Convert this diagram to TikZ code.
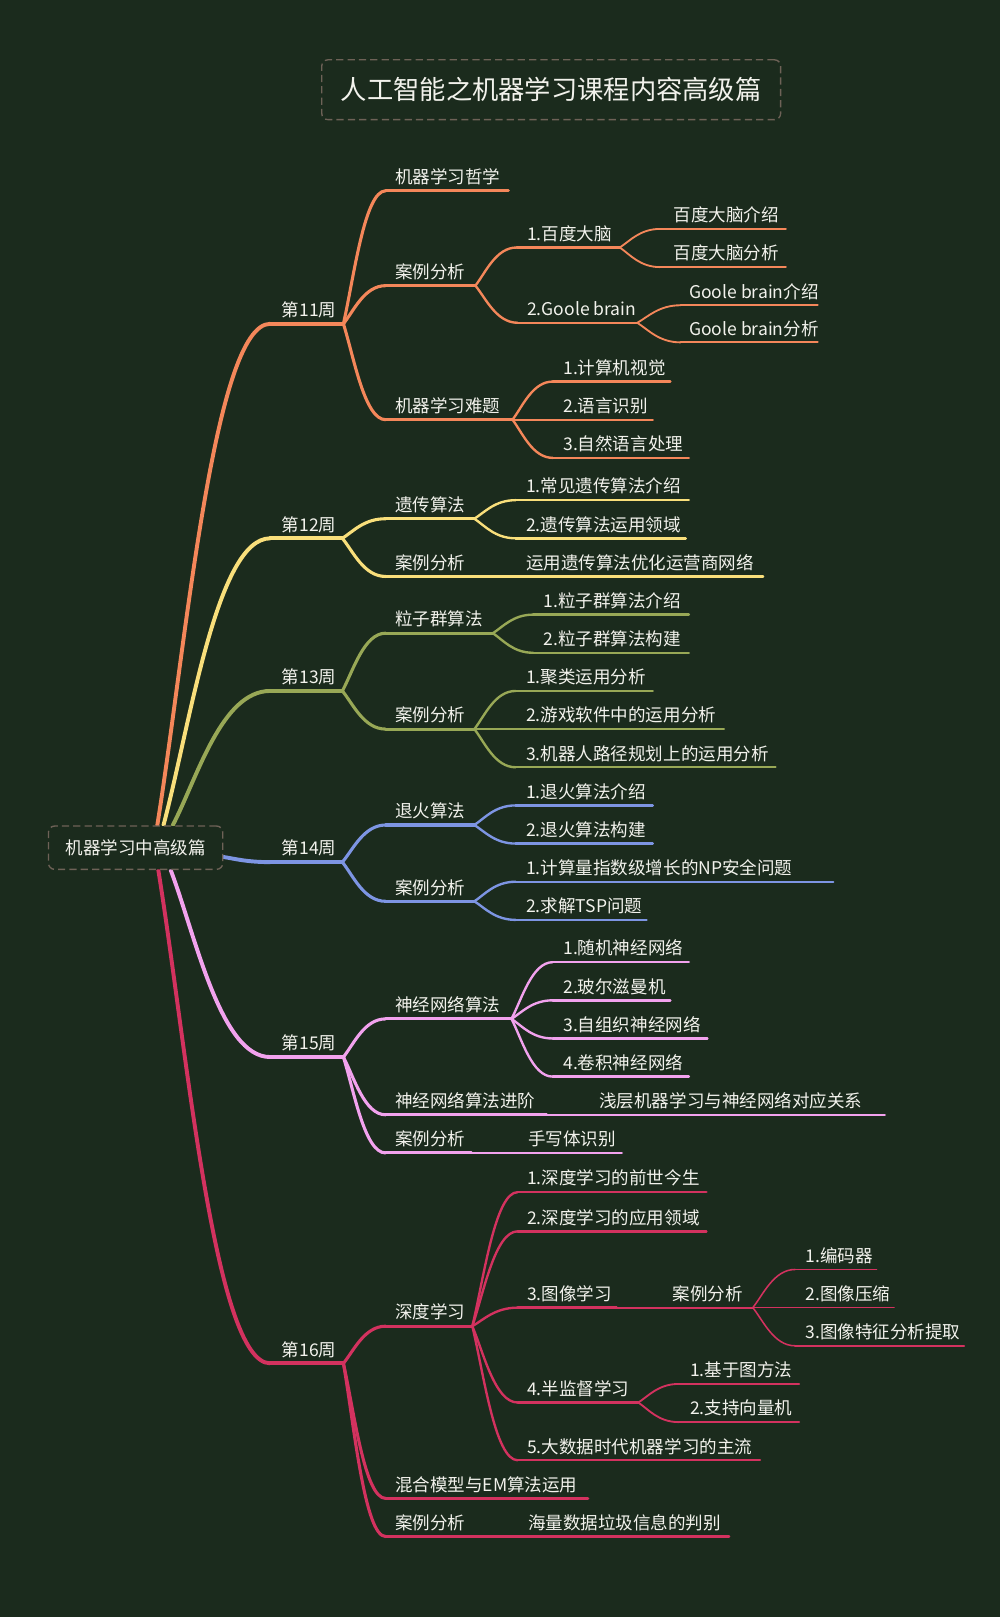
\documentclass[tikz,border=0pt]{standalone}
\usepackage{fontspec}
\setmainfont{Noto Sans CJK SC}
\usetikzlibrary{calc}
\definecolor{bgc}{HTML}{1B2B1D}
\definecolor{boxc}{HTML}{6E6257}
\definecolor{txtc}{HTML}{F2F2EC}
\definecolor{cOr}{HTML}{F4875A}
\definecolor{cYe}{HTML}{F9DF7B}
\definecolor{cOl}{HTML}{98A856}
\definecolor{cBl}{HTML}{7D95E3}
\definecolor{cPk}{HTML}{F2A2EE}
\definecolor{cCr}{HTML}{D3325F}
\pgfdeclarelayer{bgl}\pgfdeclarelayer{lnl}\pgfsetlayers{bgl,lnl,main}
\tikzset{
 txt/.style={anchor=base west, inner sep=0pt, text=txtc, font=\fontsize{17}{20}\selectfont},
 dbox/.style={draw=boxc, line width=1.3pt, dash pattern=on 7pt off 4pt, rounded corners=6pt, fill=bgc, text=txtc, inner sep=0pt},
 lA/.style={line width=3.8pt, line cap=round},
 lB/.style={line width=3pt, line cap=round},
 lC/.style={line width=2.3pt, line cap=round},
 lD/.style={line width=1.8pt, line cap=round},
 lE/.style={line width=1.5pt, line cap=round},
}
% name, x0, x1, y, text x, style, text
\newcommand\mmn[7]{%
  \coordinate (#1s) at (#2,#4);
  \coordinate (#1e) at (#3,#4);
  \draw[#6] (#1s) -- (#1e);
  \node[txt] (#1) at (#5,#4-7) {#7};
}
\newcommand\conn[3]{\draw[#1] let \p1=(#2), \p2=(#3) in (\p1) .. controls ({\x1+0.25*(\x2-\x1)},{\y1+0.35*(\y2-\y1)}) and ({\x2-0.5*(\x2-\x1)},\y2) .. (\p2);}
\begin{document}
\begin{tikzpicture}[x=1pt,y=-1pt]
\begin{pgfonlayer}{bgl}
\fill[bgc] (0,0) rectangle (970,1568);
\end{pgfonlayer}
\useasboundingbox (0,0) rectangle (970,1568);

\node[dbox, minimum width=445pt, minimum height=58pt, font=\fontsize{25.5}{30}\selectfont] (title) at (534.5,87) {人工智能之机器学习课程内容高级篇};
\node[dbox, minimum width=169pt, minimum height=42pt, font=\fontsize{17}{20}\selectfont] (root) at (131.5,822) {机器学习中高级篇};

\coordinate (r11) at ($(root.north)+(21,0)$);
\coordinate (r12) at ($(root.north)+(27,0)$);
\coordinate (r13) at ($(root.north)+(36,0)$);
\coordinate (r14) at ($(root.east)+(0,9)$);
\coordinate (r15) at ($(root.south)+(34,0)$);
\coordinate (r16) at ($(root.south)+(22,0)$);

% ---------- week 11
\mmn{w11}{262}{333}{314}{273}{lA,draw=cOr}{第11周}
\mmn{a1}{374}{493}{185}{383}{lB,draw=cOr}{机器学习哲学}
\mmn{a2}{374}{461}{277}{383}{lB,draw=cOr}{案例分析}
\mmn{a21}{501}{601}{240}{511}{lC,draw=cOr}{1.百度大脑}
\mmn{a211}{640}{762}{222}{653}{lD,draw=cOr}{百度大脑介绍}
\mmn{a212}{640}{762}{259}{653}{lD,draw=cOr}{百度大脑分析}
\mmn{a22}{502}{618}{313}{511}{lC,draw=cOr}{2.Goole brain}
\mmn{a221}{660}{793}{296}{668}{lD,draw=cOr}{Goole brain介绍}
\mmn{a222}{660}{793}{332}{668}{lD,draw=cOr}{Goole brain分析}
\mmn{a3}{374}{497}{407}{383}{lB,draw=cOr}{机器学习难题}
\mmn{a31}{536}{650}{370}{546}{lC,draw=cOr}{1.计算机视觉}
\mmn{a32}{536}{633}{407}{546}{lC,draw=cOr}{2.语言识别}
\mmn{a33}{536}{668}{444}{546}{lC,draw=cOr}{3.自然语言处理}
\conn{lB,draw=cOr}{w11e}{a1s}
\conn{lB,draw=cOr}{w11e}{a2s}
\conn{lB,draw=cOr}{w11e}{a3s}
\conn{lC,draw=cOr}{a2e}{a21s}
\conn{lC,draw=cOr}{a2e}{a22s}
\conn{lD,draw=cOr}{a21e}{a211s}
\conn{lD,draw=cOr}{a21e}{a212s}
\conn{lD,draw=cOr}{a22e}{a221s}
\conn{lD,draw=cOr}{a22e}{a222s}
\conn{lC,draw=cOr}{a3e}{a31s}
\conn{lC,draw=cOr}{a3e}{a32s}
\conn{lC,draw=cOr}{a3e}{a33s}

% ---------- week 12
\mmn{w12}{262}{332}{522}{273}{lA,draw=cYe}{第12周}
\mmn{b1}{374}{460}{503}{383}{lB,draw=cYe}{遗传算法}
\mmn{b11}{500}{668}{485}{510}{lC,draw=cYe}{1.常见遗传算法介绍}
\mmn{b12}{500}{665}{522}{510}{lC,draw=cYe}{2.遗传算法运用领域}
\mmn{b2}{374}{460}{559}{383}{lB,draw=cYe}{案例分析}
\mmn{b21}{460}{740}{559}{510}{lC,draw=cYe}{运用遗传算法优化运营商网络}
\conn{lB,draw=cYe}{w12e}{b1s}
\conn{lB,draw=cYe}{w12e}{b2s}
\conn{lC,draw=cYe}{b1e}{b11s}
\conn{lC,draw=cYe}{b1e}{b12s}

% ---------- week 13
\mmn{w13}{262}{332}{670}{273}{lA,draw=cOl}{第13周}
\mmn{c1}{374}{478}{614}{383}{lB,draw=cOl}{粒子群算法}
\mmn{c11}{517}{668}{596}{527}{lC,draw=cOl}{1.粒子群算法介绍}
\mmn{c12}{517}{668}{633}{527}{lC,draw=cOl}{2.粒子群算法构建}
\mmn{c2}{374}{460}{707}{383}{lB,draw=cOl}{案例分析}
\mmn{c21}{500}{633}{670}{510}{lC,draw=cOl}{1.聚类运用分析}
\mmn{c22}{500}{702}{707}{510}{lC,draw=cOl}{2.游戏软件中的运用分析}
\mmn{c23}{500}{752}{744}{510}{lC,draw=cOl}{3.机器人路径规划上的运用分析}
\conn{lB,draw=cOl}{w13e}{c1s}
\conn{lB,draw=cOl}{w13e}{c2s}
\conn{lC,draw=cOl}{c1e}{c11s}
\conn{lC,draw=cOl}{c1e}{c12s}
\conn{lC,draw=cOl}{c2e}{c21s}
\conn{lC,draw=cOl}{c2e}{c22s}
\conn{lC,draw=cOl}{c2e}{c23s}

% ---------- week 14
\mmn{w14}{262}{332}{836}{273}{lA,draw=cBl}{第14周}
\mmn{d1}{374}{460}{800}{383}{lB,draw=cBl}{退火算法}
\mmn{d11}{500}{633}{781}{510}{lC,draw=cBl}{1.退火算法介绍}
\mmn{d12}{500}{633}{818}{510}{lC,draw=cBl}{2.退火算法构建}
\mmn{d2}{374}{460}{874}{383}{lB,draw=cBl}{案例分析}
\mmn{d21}{500}{808}{855}{510}{lC,draw=cBl}{1.计算量指数级增长的NP安全问题}
\mmn{d22}{500}{627}{892}{510}{lC,draw=cBl}{2.求解TSP问题}
\conn{lB,draw=cBl}{w14e}{d1s}
\conn{lB,draw=cBl}{w14e}{d2s}
\conn{lC,draw=cBl}{d1e}{d11s}
\conn{lC,draw=cBl}{d1e}{d12s}
\conn{lC,draw=cBl}{d2e}{d21s}
\conn{lC,draw=cBl}{d2e}{d22s}

% ---------- week 15
\mmn{w15}{262}{333}{1025}{273}{lA,draw=cPk}{第15周}
\mmn{e1}{374}{496}{988}{383}{lB,draw=cPk}{神经网络算法}
\mmn{e11}{536}{668}{933}{546}{lC,draw=cPk}{1.随机神经网络}
\mmn{e12}{536}{650}{970}{546}{lC,draw=cPk}{2.玻尔滋曼机}
\mmn{e13}{536}{686}{1007}{546}{lC,draw=cPk}{3.自组织神经网络}
\mmn{e14}{536}{668}{1044}{546}{lC,draw=cPk}{4.卷积神经网络}
\mmn{e2}{374}{530}{1081}{383}{lB,draw=cPk}{神经网络算法进阶}
\mmn{e21}{530}{858}{1081}{581}{lC,draw=cPk}{浅层机器学习与神经网络对应关系}
\mmn{e3}{374}{457}{1118}{383}{lB,draw=cPk}{案例分析}
\mmn{e31}{457}{603}{1118}{512}{lC,draw=cPk}{手写体识别}
\conn{lB,draw=cPk}{w15e}{e1s}
\conn{lB,draw=cPk}{w15e}{e2s}
\conn{lB,draw=cPk}{w15e}{e3s}
\conn{lC,draw=cPk}{e1e}{e11s}
\conn{lC,draw=cPk}{e1e}{e12s}
\conn{lC,draw=cPk}{e1e}{e13s}
\conn{lC,draw=cPk}{e1e}{e14s}

% ---------- week 16
\mmn{w16}{262}{333}{1322}{273}{lA,draw=cCr}{第16周}
\mmn{f1}{374}{458}{1286}{383}{lB,draw=cCr}{深度学习}
\mmn{f11}{502}{685}{1156}{511}{lC,draw=cCr}{1.深度学习的前世今生}
\mmn{f12}{502}{685}{1194}{511}{lC,draw=cCr}{2.深度学习的应用领域}
\mmn{f13}{502}{598}{1268}{511}{lC,draw=cCr}{3.图像学习}
\mmn{f13b}{598}{730}{1268}{652}{lD,draw=cCr}{案例分析}
\mmn{f131}{771}{850}{1231}{781}{lE,draw=cCr}{1.编码器}
\mmn{f132}{771}{867}{1268}{781}{lE,draw=cCr}{2.图像压缩}
\mmn{f133}{771}{935}{1305}{781}{lE,draw=cCr}{3.图像特征分析提取}
\mmn{f14}{502}{619}{1360}{511}{lC,draw=cCr}{4.半监督学习}
\mmn{f141}{658}{775}{1342}{669}{lD,draw=cCr}{1.基于图方法}
\mmn{f142}{658}{775}{1379}{669}{lD,draw=cCr}{2.支持向量机}
\mmn{f15}{502}{737}{1416}{511}{lC,draw=cCr}{5.大数据时代机器学习的主流}
\mmn{f2}{374}{570}{1453}{383}{lB,draw=cCr}{混合模型与EM算法运用}
\mmn{f3}{374}{457}{1490}{383}{lB,draw=cCr}{案例分析}
\mmn{f31}{457}{707}{1490}{512}{lC,draw=cCr}{海量数据垃圾信息的判别}
\conn{lB,draw=cCr}{w16e}{f1s}
\conn{lB,draw=cCr}{w16e}{f2s}
\conn{lB,draw=cCr}{w16e}{f3s}
\conn{lC,draw=cCr}{f1e}{f11s}
\conn{lC,draw=cCr}{f1e}{f12s}
\conn{lC,draw=cCr}{f1e}{f13s}
\conn{lC,draw=cCr}{f1e}{f14s}
\conn{lC,draw=cCr}{f1e}{f15s}
\conn{lE,draw=cCr}{f13be}{f131s}
\conn{lE,draw=cCr}{f13be}{f132s}
\conn{lE,draw=cCr}{f13be}{f133s}
\conn{lD,draw=cCr}{f14e}{f141s}
\conn{lD,draw=cCr}{f14e}{f142s}

% ---------- root connectors (behind root box)
\begin{pgfonlayer}{lnl}
\conn{lA,draw=cOr}{r11}{w11s}
\conn{lA,draw=cYe}{r12}{w12s}
\conn{lA,draw=cOl}{r13}{w13s}
\conn{lA,draw=cBl}{r14}{w14s}
\conn{lA,draw=cPk}{r15}{w15s}
\conn{lA,draw=cCr}{r16}{w16s}
\end{pgfonlayer}
\end{tikzpicture}
\end{document}
